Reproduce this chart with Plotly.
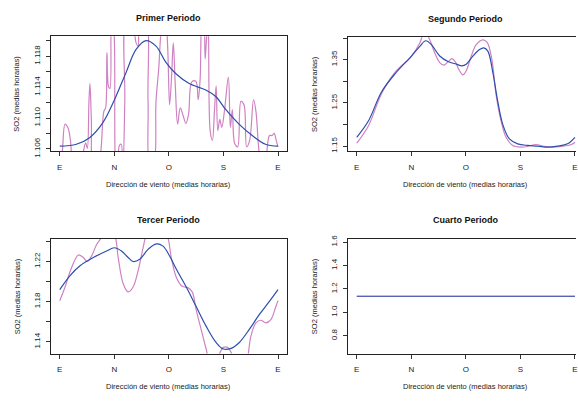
import plotly.graph_objects as go

# ---------------- data ----------------
dir_ticks = [0, 1, 2, 3, 4]
dir_labels = ["E", "N", "O", "S", "E"]

titles = ["Primer Periodo", "Segundo Periodo", "Tercer Periodo", "Cuarto Periodo"]
xlab = "Dirección de viento (medias horarias)"
ylab = "SO2 (medias horarias)"

# Periodo 1
p1_blue_x = [0.0, 0.304, 0.547, 0.79, 0.99, 1.217, 1.399, 1.581, 1.764, 1.946, 2.129, 2.372,
             2.676, 2.859, 3.041, 3.285, 3.528, 3.771, 4.0]
p1_blue_y = [1.10635, 1.10660, 1.10745, 1.10940, 1.11216, 1.11594, 1.11888, 1.12002, 1.11931,
             1.11720, 1.11573, 1.11447, 1.11363, 1.11279, 1.11111, 1.10922, 1.10774, 1.10660, 1.10635]
p1_pink_x = [0.0, 0.049, 0.097, 0.152, 0.195, 0.243, 0.335, 0.426, 0.474, 0.505, 0.535, 0.553,
             0.578, 0.620, 0.700, 0.760, 0.809, 0.840, 0.864, 0.894, 0.919, 0.949, 0.985, 1.016,
             1.046, 1.095, 1.125, 1.156, 1.192, 1.217, 1.308, 1.399, 1.436, 1.472, 1.569, 1.618,
             1.655, 1.716, 1.764, 1.813, 1.874, 1.934, 1.977, 2.013, 2.050, 2.081, 2.117, 2.160,
             2.208, 2.263, 2.312, 2.360, 2.421, 2.494, 2.537, 2.573, 2.604, 2.640, 2.664, 2.689,
             2.719, 2.756, 2.798, 2.835, 2.866, 2.896, 2.933, 2.969, 3.018, 3.090, 3.127, 3.163,
             3.206, 3.260, 3.321, 3.376, 3.425, 3.480, 3.552, 3.595, 3.644, 3.711, 3.790, 3.845,
             3.893, 3.930, 3.966, 4.0]
p1_pink_y = [1.1029, 1.10585, 1.10921, 1.10871, 1.10711, 1.10374, 1.10248, 1.10543, 1.10677,
             1.10606, 1.11216, 1.11447, 1.11005, 1.1029, 1.10248, 1.10627, 1.11089, 1.11131,
             1.11847, 1.11405, 1.11384, 1.12309, 1.12225, 1.10500, 1.1029, 1.10648, 1.10660,
             1.1029, 1.11216, 1.12309, 1.1235, 1.11973, 1.11931, 1.12309, 1.12309, 1.11216,
             1.10374, 1.10374, 1.11216, 1.11636, 1.12225, 1.1235, 1.11931, 1.11173, 1.11552,
             1.11973, 1.11426, 1.10921, 1.11131, 1.11026, 1.10929, 1.11047, 1.11468, 1.11476,
             1.11237, 1.11510, 1.12225, 1.12309, 1.11763, 1.12015, 1.12225, 1.10837, 1.10711,
             1.11089, 1.11417, 1.10837, 1.10984, 1.10879, 1.11089, 1.11531, 1.10879, 1.11110,
             1.10669, 1.10627, 1.11216, 1.11173, 1.10627, 1.10711, 1.11237, 1.11089, 1.10627,
             1.10248, 1.10543, 1.10774, 1.10774, 1.10803, 1.10711, 1.10627]

# Periodo 2
p2_blue_x = [0, 0.213, 0.456, 0.700, 1.004, 1.156, 1.265, 1.369, 1.521, 1.673, 1.825, 1.928,
             2.007, 2.129, 2.251, 2.330, 2.403, 2.494, 2.585, 2.676, 2.798, 2.950, 3.133, 3.315,
             3.498, 3.680, 3.863, 4.0]
p2_blue_y = [1.17017, 1.20780, 1.27551, 1.31690, 1.35828, 1.38085, 1.39365, 1.38462, 1.35828,
             1.34549, 1.33947, 1.33571, 1.33947, 1.35828, 1.37333, 1.37709, 1.36957, 1.32066,
             1.25294, 1.20027, 1.16642, 1.15513, 1.15136, 1.14986, 1.14760, 1.14986, 1.15513,
             1.17017]
p2_pink_x = [0, 0.213, 0.456, 0.700, 1.004, 1.156, 1.217, 1.277, 1.338, 1.429, 1.521, 1.600,
             1.673, 1.746, 1.807, 1.867, 1.946, 2.007, 2.099, 2.190, 2.311, 2.391, 2.476, 2.555,
             2.646, 2.737, 2.859, 3.011, 3.133, 3.285, 3.437, 3.589, 3.741, 3.923, 4.0]
p2_pink_y = [1.15663, 1.19651, 1.27175, 1.32066, 1.35828, 1.38838, 1.40719, 1.40945, 1.39590,
             1.36581, 1.34323, 1.33721, 1.34474, 1.35226, 1.34474, 1.32818, 1.31464, 1.32443,
             1.35828, 1.38462, 1.39590, 1.38988, 1.35076, 1.26799, 1.20780, 1.17017, 1.15136,
             1.14760, 1.14911, 1.15362, 1.14911, 1.14760, 1.14911, 1.15287, 1.15889]

# Periodo 3
p3_blue_x = [0, 0.189, 0.371, 0.614, 0.858, 0.998, 1.131, 1.253, 1.344, 1.466, 1.618, 1.770,
             1.892, 2.013, 2.135, 2.318, 2.500, 2.682, 2.865, 2.999, 3.139, 3.291, 3.473, 3.656,
             3.838, 4.0]
p3_blue_y = [1.19203, 1.20602, 1.21577, 1.22390, 1.23041, 1.23366, 1.23041, 1.22390, 1.22000,
             1.22228, 1.23203, 1.23756, 1.23529, 1.22553, 1.21252, 1.19464, 1.17512, 1.15561,
             1.13935, 1.13285, 1.13350, 1.13935, 1.15236, 1.16699, 1.17998, 1.19203]
p3_pink_x = [0, 0.097, 0.219, 0.341, 0.432, 0.505, 0.584, 0.675, 0.766, 0.797, 0.918, 1.010,
             1.071, 1.162, 1.253, 1.344, 1.436, 1.527, 1.588, 1.679, 1.892, 1.983, 2.044, 2.135,
             2.245, 2.348, 2.427, 2.500, 2.591, 2.682, 2.743, 2.835, 2.926, 2.999, 3.078, 3.139,
             3.200, 3.291, 3.412, 3.504, 3.595, 3.686, 3.777, 3.869, 3.960, 4.0]
p3_pink_y = [1.18098, 1.19464, 1.21415, 1.22651, 1.22390, 1.22000, 1.22553, 1.23691, 1.24407,
             1.24992, 1.24992, 1.24504, 1.22390, 1.19789, 1.18976, 1.19464, 1.21090, 1.23366,
             1.24667, 1.25317, 1.25317, 1.24342, 1.22390, 1.20439, 1.19529, 1.19399, 1.18976,
             1.17187, 1.15236, 1.13285, 1.11984, 1.11008, 1.12797, 1.13447, 1.13447, 1.12960,
             1.11984, 1.10683, 1.11659, 1.14586, 1.15886, 1.16146, 1.15886, 1.16211, 1.17512,
             1.18098]

# Periodo 4
p4_x = [0, 1, 2, 3, 4]
p4_blue_y = [1.1375, 1.1375, 1.1375, 1.1375, 1.1375]
p4_pink_y = [1.1375, 1.1375, 1.1375, 1.1375, 1.1375]

# y axis ticks
y1_vals = [1.106, 1.108, 1.110, 1.112, 1.114, 1.116, 1.118, 1.120]
y1_text = ["1.106", "", "1.110", "", "1.114", "", "1.118", ""]
y2_vals = [1.15, 1.20, 1.25, 1.30, 1.35, 1.40]
y2_text = ["1.15", "", "1.25", "", "1.35", ""]
y3_vals = [1.14, 1.16, 1.18, 1.20, 1.22, 1.24]
y3_text = ["1.14", "", "1.18", "", "1.22", ""]
y4_vals = [0.8, 1.0, 1.2, 1.4, 1.6]
y4_text = ["0.8", "1.0", "1.2", "1.4", "1.6"]

# ---------------- style ----------------
W, H = 578, 401
PINK = "#CF82C2"
BLUE = "#2C4FAE"
FONT = "Liberation Sans"
TXT = "#222222"

panels = [
    dict(bx=p1_blue_x, by=p1_blue_y, px=p1_pink_x, py=p1_pink_y,
         xd=(51, 288), yd=(33, 151), yr=(1.1057, 1.1206), yv=y1_vals, yt=y1_text, full=True),
    dict(bx=p2_blue_x, by=p2_blue_y, px=p2_pink_x, py=p2_pink_y,
         xd=(349, 578), yd=(34, 151), yr=(1.138, 1.402), yv=y2_vals, yt=y2_text, full=False),
    dict(bx=p3_blue_x, by=p3_blue_y, px=p3_pink_x, py=p3_pink_y,
         xd=(51, 288), yd=(241, 358.5), yr=(1.1283, 1.2424), yv=y3_vals, yt=y3_text, full=True),
    dict(bx=p4_x, by=p4_blue_y, px=p4_x, py=p4_pink_y,
         xd=(349, 578), yd=(241, 358.5), yr=(0.648, 1.627), yv=y4_vals, yt=y4_text, full=False),
]

PX_PER_UNIT = 54.75
X0 = -0.164

fig = go.Figure()
layout = dict(width=W, height=H, margin=dict(l=0, r=0, t=0, b=0),
              paper_bgcolor="white", plot_bgcolor="white", showlegend=False,
              font=dict(family=FONT, color=TXT, size=8))
annotations = []

for i, p in enumerate(panels):
    k = "" if i == 0 else str(i + 1)
    xa, ya = "x" + k, "y" + k
    fig.add_trace(go.Scatter(x=p["px"], y=p["py"], mode="lines", xaxis=xa, yaxis=ya,
                             line=dict(color=PINK, width=1.2, shape="spline", smoothing=1.0)))
    fig.add_trace(go.Scatter(x=p["bx"], y=p["by"], mode="lines", xaxis=xa, yaxis=ya,
                             line=dict(color=BLUE, width=1.2, shape="spline", smoothing=1.0)))
    x0p, x1p = p["xd"]
    y0p, y1p = p["yd"]
    xr_max = X0 + (x1p - x0p) / PX_PER_UNIT
    layout["xaxis" + k] = dict(domain=[x0p / W, x1p / W], range=[X0, xr_max], anchor=ya,
                               tickvals=dir_ticks, ticktext=dir_labels, ticks="outside",
                               ticklen=4, tickwidth=1, tickcolor="#333", showgrid=False,
                               zeroline=False, showline=True, linecolor="#222", linewidth=1,
                               mirror=True, ticklabelstandoff=4, ticklabeloverflow="allow",
                               tickfont=dict(size=8, family=FONT, color=TXT))
    layout["yaxis" + k] = dict(domain=[1 - y1p / H, 1 - y0p / H], range=list(p["yr"]),
                               anchor=xa, tickvals=p["yv"], ticktext=p["yt"], ticks="outside",
                               ticklen=4, tickwidth=1, tickcolor="#333", showgrid=False,
                               zeroline=False, showline=True, linecolor="#222", linewidth=1,
                               mirror=p["full"], tickangle=-90, ticklabelstandoff=3,
                               tickfont=dict(size=8, family=FONT, color=TXT))
    cx = (x0p + (x0p + 237)) / 2
    cy = (y0p + y1p) / 2
    annotations.append(dict(text="<b>" + titles[i] + "</b>", x=cx / W, y=1 - (y0p - 19) / H,
                            xref="paper", yref="paper", showarrow=False, xanchor="center",
                            yanchor="middle", font=dict(size=9, family=FONT, color="#111")))
    annotations.append(dict(text=xlab, x=cx / W, y=1 - (y1p + 34) / H, xref="paper",
                            yref="paper", showarrow=False, xanchor="center", yanchor="middle",
                            font=dict(size=7.5, family=FONT, color=TXT)))
    annotations.append(dict(text=ylab, x=(x0p - 34) / W, y=1 - cy / H, xref="paper",
                            yref="paper", showarrow=False, xanchor="center", yanchor="middle",
                            textangle=-90, font=dict(size=7.5, family=FONT, color=TXT)))

layout["annotations"] = annotations
fig.update_layout(**layout)
fig.write_html("out.html")
